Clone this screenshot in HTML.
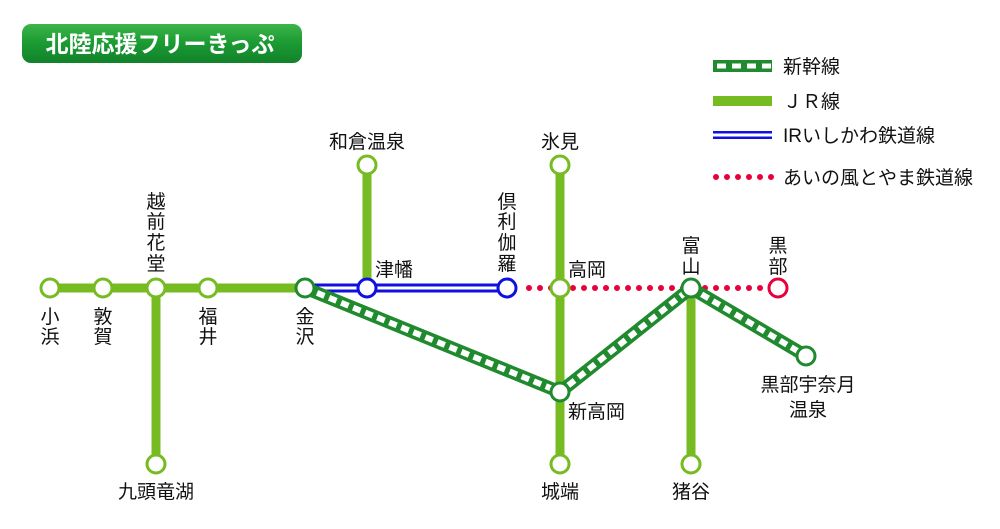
<!DOCTYPE html>
<html><head><meta charset="utf-8"><style>
html,body{margin:0;padding:0;background:#fff;}
svg{display:block;}
text{font-family:"Liberation Sans","Noto Sans CJK JP",sans-serif;font-size:19px;fill:#111;}
</style></head><body>
<svg width="1000" height="529" viewBox="0 0 1000 529" xmlns="http://www.w3.org/2000/svg">
<defs>
<linearGradient id="g" x1="0" y1="0" x2="0" y2="1">
<stop offset="0" stop-color="#3cb54a"/><stop offset="0.5" stop-color="#1a9a32"/><stop offset="1" stop-color="#12822a"/>
</linearGradient>
</defs>
<rect x="22" y="24" width="280" height="39" rx="9" fill="url(#g)"/>
<text x="160" y="52" text-anchor="middle" style="font-size:23px;font-weight:bold;fill:#fff">北陸応援フリーきっぷ</text>

<!-- legend -->
<line x1="713" y1="66" x2="772" y2="66" stroke="#1f8a2e" stroke-width="12"/>
<line x1="717" y1="66" x2="772" y2="66" stroke="#fff" stroke-width="5" stroke-dasharray="9 6"/>
<text x="783" y="73">新幹線</text>
<line x1="713" y1="101" x2="772" y2="101" stroke="#77bb22" stroke-width="10"/>
<text x="783" y="108">ＪＲ線</text>
<line x1="713" y1="135" x2="772" y2="135" stroke="#1010e0" stroke-width="8"/>
<line x1="713" y1="135" x2="772" y2="135" stroke="#fff" stroke-width="3"/>
<text x="783" y="142">IRいしかわ鉄道線</text>
<line x1="716" y1="177" x2="772" y2="177" stroke="#e8003c" stroke-width="6" stroke-linecap="round" stroke-dasharray="0 11"/>
<text x="783" y="184">あいの風とやま鉄道線</text>

<!-- JR lines -->
<g stroke="#77bb22" stroke-width="9" fill="none">
<line x1="50" y1="288" x2="305" y2="288"/>
<line x1="156" y1="288" x2="156" y2="464"/>
<line x1="367" y1="165" x2="367" y2="288"/>
<line x1="560" y1="165" x2="560" y2="464"/>
<line x1="691" y1="288" x2="691" y2="464"/>
</g>
<!-- IR -->
<line x1="305" y1="288" x2="507" y2="288" stroke="#1010e0" stroke-width="9"/>
<line x1="305" y1="288" x2="507" y2="288" stroke="#fff" stroke-width="3"/>
<!-- Aino -->
<line x1="529" y1="288" x2="770" y2="288" stroke="#e8003c" stroke-width="6" stroke-linecap="round" stroke-dasharray="0 11"/>
<!-- Shinkansen -->
<polyline points="305,288 560,392 691,288 806,356" stroke="#1f8a2e" stroke-width="13" fill="none" stroke-linejoin="round"/>
<polyline points="305,288 560,392 691,288 806,356" stroke="#fff" stroke-width="6" fill="none" stroke-dasharray="8 5"/>

<!-- nodes -->
<g fill="#fff" stroke-width="3">
<circle cx="50" cy="288" r="9" stroke="#77bb22"/>
<circle cx="103" cy="288" r="9" stroke="#77bb22"/>
<circle cx="156" cy="288" r="9" stroke="#77bb22"/>
<circle cx="208" cy="288" r="9" stroke="#77bb22"/>
<circle cx="305" cy="288" r="9" stroke="#1f8a2e"/>
<circle cx="367" cy="288" r="9" stroke="#1010e0"/>
<circle cx="507" cy="288" r="9" stroke="#1010e0"/>
<circle cx="560" cy="288" r="9" stroke="#77bb22"/>
<circle cx="691" cy="288" r="9" stroke="#1f8a2e"/>
<circle cx="778" cy="288" r="9" stroke="#e8003c"/>
<circle cx="367" cy="165" r="9" stroke="#77bb22"/>
<circle cx="560" cy="165" r="9" stroke="#77bb22"/>
<circle cx="156" cy="464" r="9" stroke="#77bb22"/>
<circle cx="560" cy="392" r="9" stroke="#1f8a2e"/>
<circle cx="560" cy="464" r="9" stroke="#77bb22"/>
<circle cx="691" cy="464" r="9" stroke="#77bb22"/>
<circle cx="806" cy="356" r="9" stroke="#1f8a2e"/>
</g>

<!-- labels -->
<g text-anchor="middle">
<text x="50" y="323">小</text><text x="50" y="343">浜</text>
<text x="103" y="323">敦</text><text x="103" y="343">賀</text>
<text x="208" y="323">福</text><text x="208" y="343">井</text>
<text x="305" y="323">金</text><text x="305" y="343">沢</text>
<text x="156" y="208">越</text><text x="156" y="228">前</text><text x="156" y="249">花</text><text x="156" y="270">堂</text>
<text x="507" y="208">倶</text><text x="507" y="228">利</text><text x="507" y="249">伽</text><text x="507" y="270">羅</text>
<text x="778" y="252">黒</text><text x="778" y="273">部</text>
<text x="691" y="252">富</text><text x="691" y="273">山</text>
<text x="367" y="148">和倉温泉</text>
<text x="560" y="148">氷見</text>
<text x="156" y="498">九頭竜湖</text>
<text x="560" y="498">城端</text>
<text x="691" y="498">猪谷</text>
<text x="808" y="391">黒部宇奈月</text>
<text x="808" y="416">温泉</text>
</g>
<text x="375" y="276">津幡</text>
<text x="568" y="276">高岡</text>
<text x="568" y="418">新高岡</text>
</svg>
</body></html>
